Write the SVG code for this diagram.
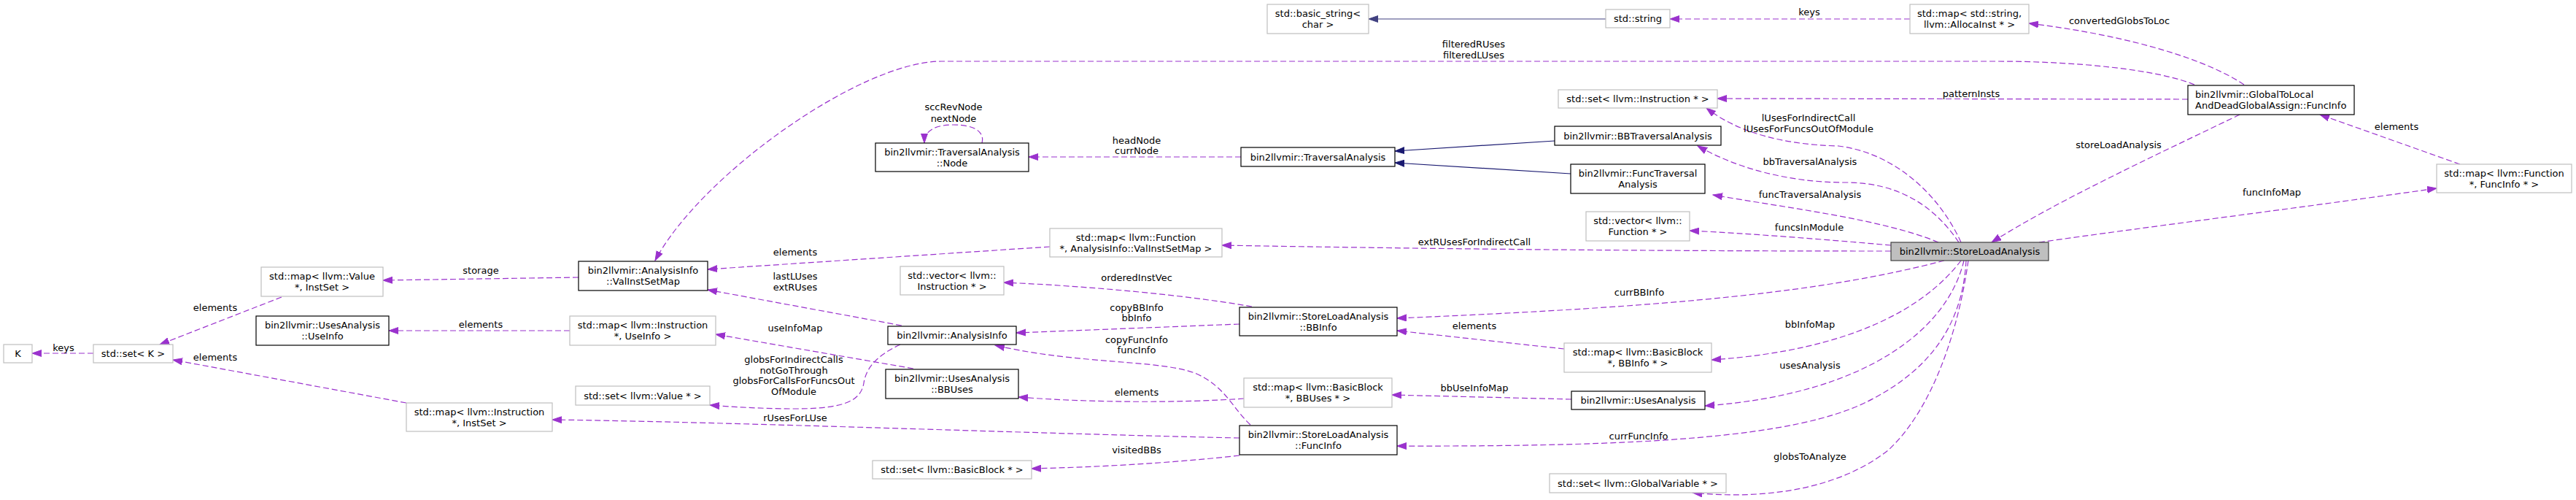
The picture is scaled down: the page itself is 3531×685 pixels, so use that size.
<svg xmlns="http://www.w3.org/2000/svg" width="3531" height="685" viewBox="0 0 3531 685">
<style>
text{font-family:"DejaVu Sans","Liberation Sans",sans-serif;font-size:13px;fill:#000;text-anchor:middle}
.l{text-anchor:start}
.doc{fill:#fff;stroke:#000;stroke-width:1.2}
.ext{fill:#fff;stroke:#bfbfbf;stroke-width:1.2}
.cur{fill:#bfbfbf;stroke:#404040;stroke-width:1.2}
.e{fill:none;stroke:#9a32cd;stroke-width:1.2;stroke-dasharray:8,4;marker-end:url(#ap)}
.i{fill:none;stroke:#191970;stroke-width:1.2;marker-end:url(#an)}
.i2{fill:none;stroke:#404080;stroke-width:1.2;marker-end:url(#an2)}
</style>
<defs>
<marker id="ap" markerWidth="14" markerHeight="10" refX="13" refY="5" orient="auto" markerUnits="userSpaceOnUse"><path d="M0,0.5 L13,5 L0,9.5 z" fill="#9a32cd" stroke="#9a32cd" stroke-width="1"/></marker>
<marker id="an" markerWidth="14" markerHeight="10" refX="13" refY="5" orient="auto" markerUnits="userSpaceOnUse"><path d="M0,0.5 L13,5 L0,9.5 z" fill="#191970" stroke="#191970" stroke-width="1"/></marker>
<marker id="an2" markerWidth="14" markerHeight="10" refX="13" refY="5" orient="auto" markerUnits="userSpaceOnUse"><path d="M0,0.5 L13,5 L0,9.5 z" fill="#404080" stroke="#404080" stroke-width="1"/></marker>
</defs>
<rect width="3531" height="685" fill="#fff"/>
<g id="edges">
<path class="e" d="M128,484 L44,484"/><text x="87" y="481">keys</text>
<path class="e" d="M386,407 L219,472"/><text x="295" y="426">elements</text>
<path class="e" d="M557,552 L237,493"/><text x="295" y="494">elements</text>
<path class="e" d="M793,380 L525,384"/><text x="659" y="375">storage</text>
<path class="e" d="M781,453 L533,453"/><text x="659" y="449">elements</text>
<path class="e" d="M1439,338 L970,369"/><text x="1090" y="350">elements</text>
<path class="e" d="M1236,446 L970,397"/><text x="1090" y="383">lastLUses</text><text x="1090" y="398">extRUses</text>
<path class="e" d="M1252,505 L981,458"/><text x="1090" y="454">useInfoMap</text>
<path class="e" d="M1234,472 C1200,488 1187,505 1184,525 C1180,548 1160,560 1090,560 C1040,560 1000,557 973,555"/>
<text x="1088" y="497">globsForIndirectCalls</text><text x="1088" y="512">notGoThrough</text><text x="1088" y="526">globsForCallsForFuncsOut</text><text x="1088" y="541">OfModule</text>
<path class="e" d="M1699,600 C1450,595 1000,578 757,575"/><text x="1090" y="577">rUsesForLUse</text>
<path class="e" d="M3008,116 C2960,96 2850,84 2738,84 L1290,84 C1180,84 960,240 898,357"/><text x="2020" y="65">filteredRUses</text><text x="2020" y="80">filteredLUses</text>
<path class="e" d="M1701,215 L1410,215"/><text x="1558" y="197">headNode</text><text x="1558" y="211">currNode</text>
<path class="e" d="M1346,196 C1350,180 1335,171 1307,171 C1280,171 1267,180 1267,196"/><text x="1307" y="151">sccRevNode</text><text x="1307" y="167">nextNode</text>
<path class="i" d="M2131,193 L1912,207"/>
<path class="i" d="M2153,238 L1912,223"/>
<path class="i2" d="M2201,26 L1876,26"/>
<path class="e" d="M2618,26 L2289,26"/><text x="2480" y="21">keys</text>
<path class="e" d="M3076,116 C3030,85 2930,50 2781,32"/><text x="2905" y="33">convertedGlobsToLoc</text>
<path class="e" d="M2999,136 L2354,135"/><text x="2702" y="133">patternInsts</text>
<path class="e" d="M2688,332 C2660,270 2600,210 2520,200 C2440,198 2380,180 2339,148"/><text x="2479" y="166">lUsesForIndirectCall</text><text x="2479" y="181">lUsesForFuncsOutOfModule</text>
<path class="e" d="M2685,332 C2650,280 2600,250 2530,250 C2450,250 2380,230 2327,200"/><text x="2481" y="226">bbTraversalAnalysis</text>
<path class="e" d="M2657,332 C2580,300 2450,285 2348,267"/><text x="2481" y="271">funcTraversalAnalysis</text>
<path class="e" d="M2592,336 C2500,328 2400,320 2316,316"/><text x="2480" y="316">funcsInModule</text>
<path class="e" d="M2592,344 C2200,344 1900,340 1675,336"/><text x="2021" y="336">extRUsesForIndirectCall</text>
<path class="e" d="M2665,357 C2500,400 2300,420 1915,436"/><text x="2247" y="405">currBBInfo</text>
<path class="e" d="M2144,478 L1915,453"/><text x="2021" y="451">elements</text>
<path class="e" d="M2688,357 C2640,420 2540,480 2346,493"/><text x="2481" y="449">bbInfoMap</text>
<path class="e" d="M1716,420 C1600,400 1450,390 1376,387"/><text x="1558" y="385">orderedInstVec</text>
<path class="e" d="M1699,444 L1393,456"/><text x="1558" y="426">copyBBInfo</text><text x="1558" y="440">bbInfo</text>
<path class="e" d="M1714,582 C1690,560 1680,530 1640,512 C1590,492 1480,500 1364,473"/><text x="1558" y="470">copyFuncInfo</text><text x="1558" y="484">funcInfo</text>
<path class="e" d="M1705,546 C1620,552 1500,552 1396,544"/><text x="1558" y="542">elements</text>
<path class="e" d="M2154,547 L1908,541"/><text x="2021" y="536">bbUseInfoMap</text>
<path class="e" d="M2692,357 C2670,450 2560,540 2337,556"/><text x="2481" y="505">usesAnalysis</text>
<path class="e" d="M2695,357 C2690,450 2640,510 2560,550 C2460,600 2250,612 1915,611"/><text x="2246" y="602">currFuncInfo</text>
<path class="e" d="M2698,357 C2685,450 2650,560 2588,617 C2520,670 2420,685 2320,675"/><text x="2481" y="630">globsToAnalyze</text>
<path class="e" d="M1699,624 C1600,635 1500,640 1414,642"/><text x="1558" y="621">visitedBBs</text>
<path class="e" d="M3070,157 C2950,215 2820,275 2730,332"/><text x="2904" y="203">storeLoadAnalysis</text>
<path class="e" d="M2795,332 C2950,310 3150,285 3340,258"/><text x="3114" y="268">funcInfoMap</text>
<path class="e" d="M3372,225 L3180,157"/><text x="3285" y="178">elements</text>
</g>
<g id="n_K"><rect class="ext" x="5" y="472" width="39" height="25"/><text x="24.5" y="489">K</text></g>
<g id="n_setK"><rect class="ext" x="128" y="472" width="109" height="25"/><text x="182.5" y="489">std::set&lt; K &gt;</text></g>
<g id="n_mapValue"><rect class="ext" x="358" y="366" width="167" height="40"/><text x="441.5" y="383">std::map&lt; llvm::Value</text><text x="441.5" y="398">*, InstSet &gt;</text></g>
<g id="n_UseInfo"><rect class="doc" x="351" y="433" width="182" height="40"/><text x="442" y="450">bin2llvmir::UsesAnalysis</text><text x="442" y="465">::UseInfo</text></g>
<g id="n_mapInstInstSet"><rect class="ext" x="557" y="552" width="200" height="39"/><text x="657" y="568.5">std::map&lt; llvm::Instruction</text><text x="657" y="583.5">*, InstSet &gt;</text></g>
<g id="n_ValInstSetMap"><rect class="doc" x="793" y="358" width="177" height="40"/><text x="881.5" y="375">bin2llvmir::AnalysisInfo</text><text x="881.5" y="390">::ValInstSetMap</text></g>
<g id="n_mapInstUseInfo"><rect class="ext" x="781" y="433" width="200" height="40"/><text x="881" y="450">std::map&lt; llvm::Instruction</text><text x="881" y="465">*, UseInfo &gt;</text></g>
<g id="n_setValue"><rect class="ext" x="789" y="529" width="184" height="26"/><text x="881" y="546.5">std::set&lt; llvm::Value * &gt;</text></g>
<g id="n_Node"><rect class="doc" x="1200" y="196" width="210" height="39"/><text x="1305" y="212.5">bin2llvmir::TraversalAnalysis</text><text x="1305" y="227.5">::Node</text></g>
<g id="n_AnalysisInfo"><rect class="doc" x="1217" y="447" width="176" height="25"/><text x="1305" y="464">bin2llvmir::AnalysisInfo</text></g>
<g id="n_BBUses"><rect class="doc" x="1214" y="506" width="182" height="40"/><text x="1305" y="523">bin2llvmir::UsesAnalysis</text><text x="1305" y="538">::BBUses</text></g>
<g id="n_setBB"><rect class="ext" x="1196" y="631" width="218" height="25"/><text x="1305" y="648">std::set&lt; llvm::BasicBlock * &gt;</text></g>
<g id="n_vecInst"><rect class="ext" x="1234" y="365" width="142" height="39"/><text x="1305" y="381.5">std::vector&lt; llvm::</text><text x="1305" y="396.5">Instruction * &gt;</text></g>
<g id="n_mapFuncVISM"><rect class="ext" x="1439" y="313" width="236" height="39"/><text x="1557" y="329.5">std::map&lt; llvm::Function</text><text x="1557" y="344.5">*, AnalysisInfo::ValInstSetMap &gt;</text></g>
<g id="n_Traversal"><rect class="doc" x="1701" y="202" width="211" height="26"/><text x="1806.5" y="219.5">bin2llvmir::TraversalAnalysis</text></g>
<g id="n_BBInfo"><rect class="doc" x="1699" y="421" width="216" height="39"/><text x="1807" y="437.5">bin2llvmir::StoreLoadAnalysis</text><text x="1807" y="452.5">::BBInfo</text></g>
<g id="n_mapBBUses"><rect class="ext" x="1705" y="518" width="203" height="40"/><text x="1806.5" y="535">std::map&lt; llvm::BasicBlock</text><text x="1806.5" y="550">*, BBUses * &gt;</text></g>
<g id="n_SLAFuncInfo"><rect class="doc" x="1699" y="583" width="216" height="40"/><text x="1807" y="600">bin2llvmir::StoreLoadAnalysis</text><text x="1807" y="615">::FuncInfo</text></g>
<g id="n_basicString"><rect class="ext" x="1737" y="6" width="139" height="40"/><text x="1806.5" y="23">std::basic_string&lt;</text><text x="1806.5" y="38">char &gt;</text></g>
<g id="n_string"><rect class="ext" x="2201" y="13" width="88" height="25"/><text x="2245" y="30">std::string</text></g>
<g id="n_setInst"><rect class="ext" x="2136" y="123" width="218" height="25"/><text x="2245" y="140">std::set&lt; llvm::Instruction * &gt;</text></g>
<g id="n_BBTraversal"><rect class="doc" x="2131" y="173" width="228" height="26"/><text x="2245" y="190.5">bin2llvmir::BBTraversalAnalysis</text></g>
<g id="n_FuncTraversal"><rect class="doc" x="2153" y="225" width="184" height="40"/><text x="2245" y="242">bin2llvmir::FuncTraversal</text><text x="2245" y="257">Analysis</text></g>
<g id="n_vecFunc"><rect class="ext" x="2174" y="290" width="142" height="40"/><text x="2245" y="307">std::vector&lt; llvm::</text><text x="2245" y="322">Function * &gt;</text></g>
<g id="n_mapBBInfo"><rect class="ext" x="2144" y="470" width="202" height="40"/><text x="2245" y="487">std::map&lt; llvm::BasicBlock</text><text x="2245" y="502">*, BBInfo * &gt;</text></g>
<g id="n_UsesAnalysis"><rect class="doc" x="2154" y="536" width="183" height="25"/><text x="2245.5" y="553">bin2llvmir::UsesAnalysis</text></g>
<g id="n_setGV"><rect class="ext" x="2124" y="649" width="242" height="26"/><text x="2245" y="666.5">std::set&lt; llvm::GlobalVariable * &gt;</text></g>
<g id="n_SLA"><rect class="cur" x="2592" y="332" width="216" height="25"/><text x="2700" y="349">bin2llvmir::StoreLoadAnalysis</text></g>
<g id="n_mapStrAlloca"><rect class="ext" x="2618" y="6" width="163" height="40"/><text x="2699.5" y="23">std::map&lt; std::string,</text><text x="2699.5" y="38">llvm::AllocaInst * &gt;</text></g>
<g id="n_GTL"><rect class="doc" x="2999" y="117" width="228" height="40"/><text class="l" x="3009" y="134">bin2llvmir::GlobalToLocal</text><text class="l" x="3009" y="149">AndDeadGlobalAssign::FuncInfo</text></g>
<g id="n_mapFuncFuncInfo"><rect class="ext" x="3340" y="225" width="185" height="39"/><text x="3432.5" y="241.5">std::map&lt; llvm::Function</text><text x="3432.5" y="256.5">*, FuncInfo * &gt;</text></g>
</svg>
